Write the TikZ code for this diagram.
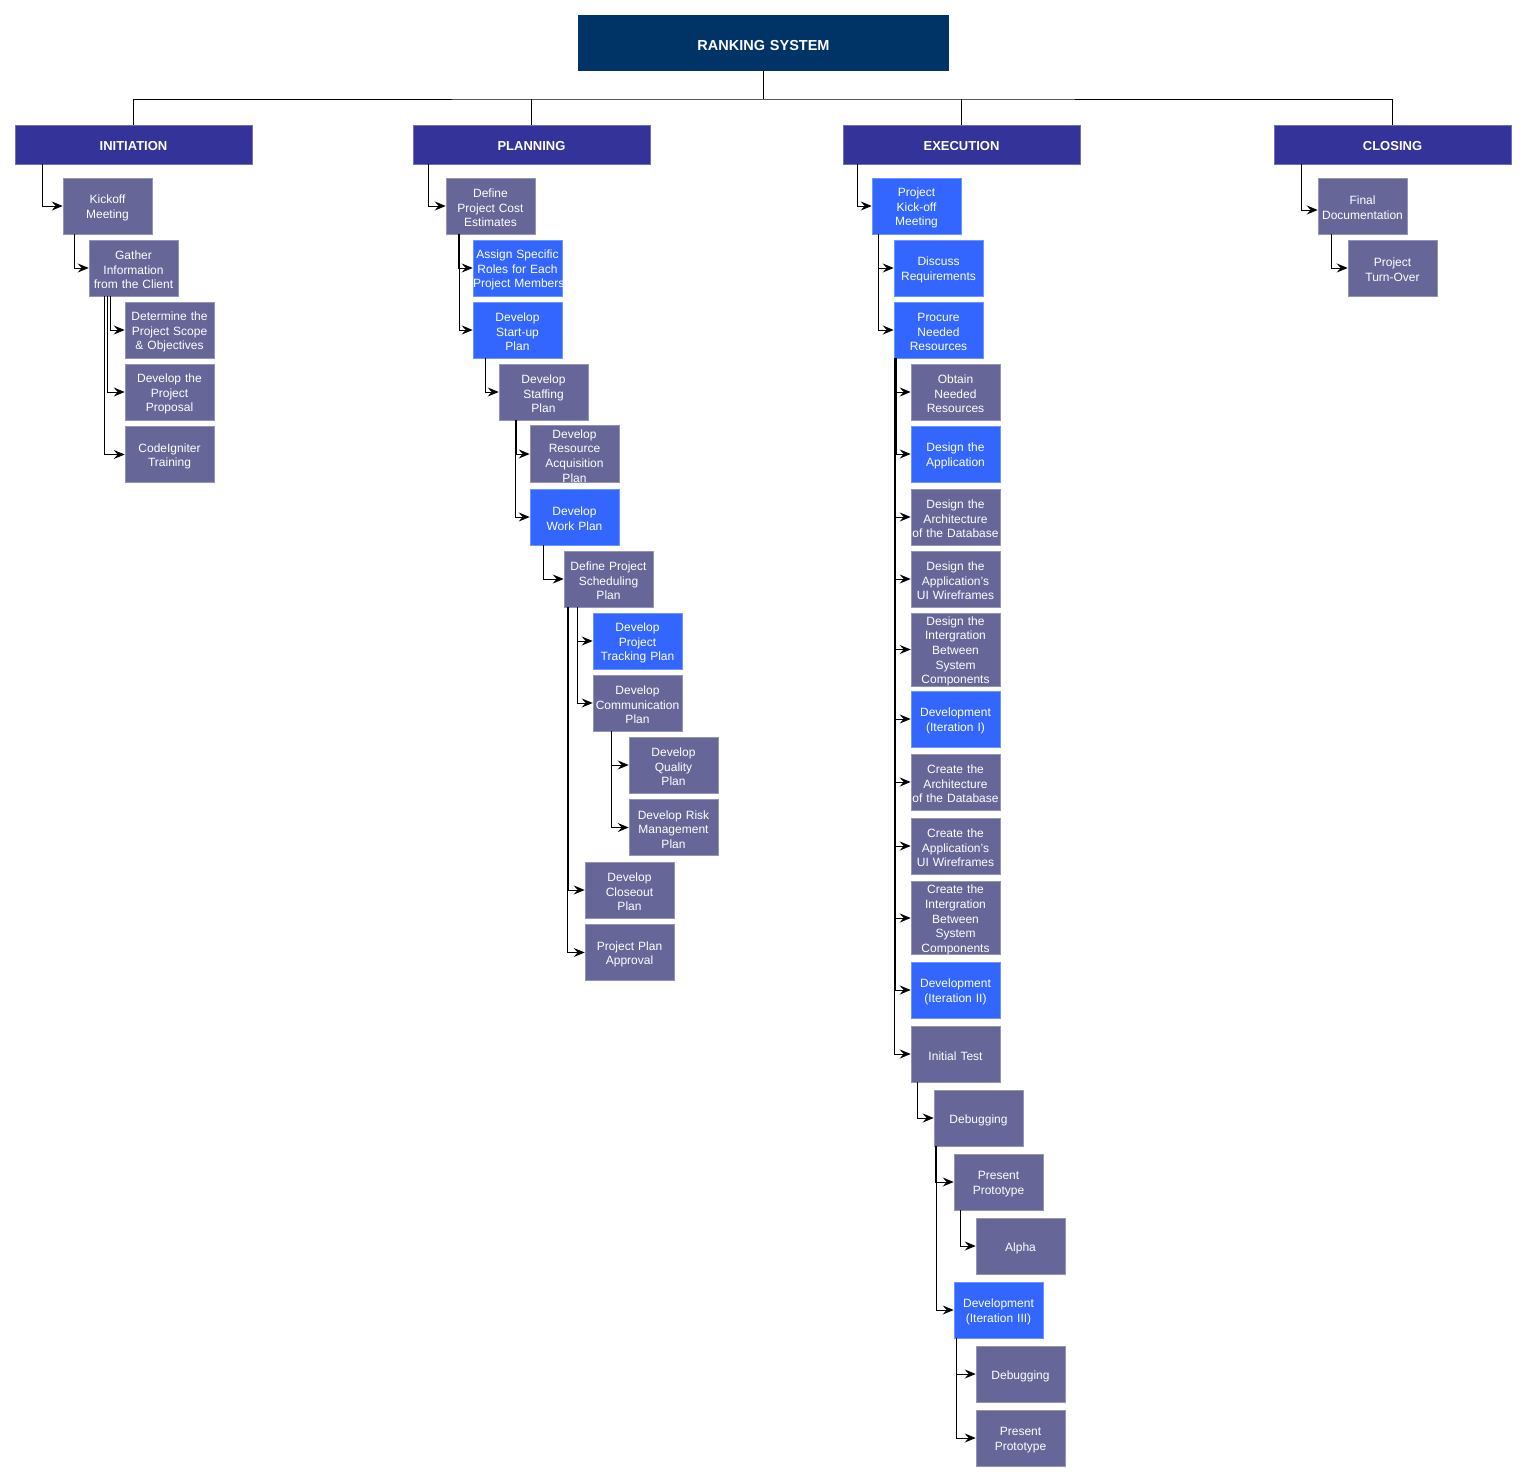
\documentclass[tikz,border=0pt]{standalone}
\usepackage{fontspec}
\setmainfont{Liberation Sans}
\usetikzlibrary{arrows.meta}

\definecolor{topnavy}{HTML}{003366}
\definecolor{phaseblue}{HTML}{333399}
\definecolor{taskgray}{HTML}{666699}
\definecolor{taskblue}{HTML}{3366FF}

\tikzset{
  % a taller first line sets the text a little lower in its box
  lower/.style={execute at begin node={\rule{0pt}{#1}}},
  box/.style={inner sep=0pt, text width=89pt, minimum height=56pt, align=center,
    text=white, font=\fontsize{12}{14.6}\selectfont, line width=0.6pt, lower=12.5pt},
  gbox/.style={box, fill=taskgray, draw=taskgray!70!white},
  bbox/.style={box, fill=taskblue, draw=taskblue!70!white},
  tall/.style={minimum height=73pt},
  phase/.style={inner sep=0pt, text width=237pt, minimum height=39pt, align=center,
    fill=phaseblue, draw=phaseblue!70!white, line width=0.6pt, text=white,
    font=\bfseries\fontsize{13}{15}\selectfont, lower=13pt},
  root/.style={inner sep=0pt, text width=371pt, minimum height=56pt, align=center,
    fill=topnavy, text=white, font=\bfseries\fontsize{14.5}{17}\selectfont, lower=14.5pt},
  tree/.style={draw=black, line width=0.9pt},
  conn/.style={draw=black, line width=0.9pt,
    -{Stealth[length=11pt,width=9pt,inset=4pt]}}
}

% parent -> child elbow connector: [yshift] {parent} {child} {x offset from parent's left edge}
\newcommand{\wbsto}[4][0]{\draw[conn] ([xshift=#4pt]#2.south west) |- ([yshift=#1pt]#3.west);}

\begin{document}
\begin{tikzpicture}[x=1pt,y=-1pt]
\useasboundingbox (0,0) rectangle (1527,1482);

% root and phases
\node[root] (root) at (763.5,43) {RANKING SYSTEM};
\node[phase] (init)  at (133.5,144.5)  {INITIATION};
\node[phase] (plan)  at (531.5,144.5)  {PLANNING};
\node[phase] (exec)  at (961.5,144.5)  {EXECUTION};
\node[phase] (close) at (1392.5,144.5) {CLOSING};

\coordinate (bus) at (763.5,99);
\draw[tree] (root.south) -- (bus);
\draw[tree] (init.north) |- (bus) -| (close.north);
\draw[tree] (plan.north) -- (plan.north |- bus);
\draw[tree] (exec.north) -- (exec.north |- bus);

% ---- Initiation ----
\node[gbox] (kick)     at (107.5,206) {Kickoff\\Meeting};
\node[gbox] (gather)   at (133.5,268) {Gather\\Information\\from the Client};
\node[gbox] (scope)    at (169.5,330) {Determine the\\Project Scope\\\& Objectives};
\node[gbox] (proposal) at (169.5,392) {Develop the\\Project\\Proposal};
\node[gbox] (ci)       at (169.5,454.5) {CodeIgniter\\Training};

\wbsto{init}{kick}{28}
\wbsto{kick}{gather}{12}
\wbsto{gather}{scope}{22}
\wbsto{gather}{proposal}{19}
\wbsto{gather}{ci}{16}

% ---- Planning ----
\node[gbox] (cost)     at (490.5,206) {Define\\Project Cost\\Estimates};
\node[bbox] (roles)    at (517.5,268) {Assign Specific\\Roles for Each\\\mbox{Project Members}};
\node[bbox] (startup)  at (517.5,330) {Develop\\Start-up\\Plan};
\node[gbox] (staff)    at (543.5,392) {Develop\\Staffing\\Plan};
\node[gbox] (resacq)   at (574.5,454) {Develop\\Resource\\Acquisition\\Plan};
\node[bbox] (work)     at (574.5,517) {Develop\\Work Plan};
\node[gbox] (sched)    at (608.5,579) {Define Project\\Scheduling\\Plan};
\node[bbox] (track)    at (637.5,641) {Develop\\Project\\Tracking Plan};
\node[gbox] (comm)     at (637.5,703) {Develop\\Communication\\Plan};
\node[gbox] (quality)  at (673.5,765) {Develop\\Quality\\Plan};
\node[gbox] (risk)     at (673.5,827.5) {Develop Risk\\Management\\Plan};
\node[gbox] (closeout) at (629.5,890) {Develop\\Closeout\\Plan};
\node[gbox] (approval) at (629.5,952.5) {Project Plan\\Approval};

\wbsto{plan}{cost}{16}
\wbsto{cost}{roles}{13}
\wbsto{cost}{startup}{14}
\wbsto{startup}{staff}{13}
\wbsto{staff}{resacq}{18}
\wbsto{staff}{work}{17}
\wbsto{work}{sched}{14}
\wbsto{sched}{track}{14}
\wbsto{sched}{comm}{14}
\wbsto{comm}{quality}{19}
\wbsto{comm}{risk}{19}
\wbsto{sched}{closeout}{5}
\wbsto{sched}{approval}{4}

% ---- Execution ----
\node[bbox] (pkick)   at (916.5,206) {Project\\Kick-off\\Meeting};
\node[bbox] (discuss) at (938.5,268) {Discuss\\Requirements};
\node[bbox] (procure) at (938.5,330) {Procure\\Needed\\Resources};
\node[gbox] (obtain)  at (955.5,392) {Obtain\\Needed\\Resources};
\node[bbox] (dapp)    at (955.5,454) {Design the\\Application};
\node[gbox] (darch)   at (955.5,517) {Design the\\Architecture\\\mbox{of the Database}};
\node[gbox] (dui)     at (955.5,579) {Design the\\Application's\\UI Wireframes};
\node[gbox,tall] (dint) at (955.5,649.5) {Design the\\Intergration\\Between\\System\\Components};
\node[bbox] (devone)  at (955.5,719) {Development\\(Iteration I)};
\node[gbox] (carch)   at (955.5,782) {Create the\\Architecture\\\mbox{of the Database}};
\node[gbox] (cui)     at (955.5,846) {Create the\\Application's\\UI Wireframes};
\node[gbox,tall] (cint) at (955.5,918) {Create the\\Intergration\\Between\\System\\Components};
\node[bbox] (devtwo)  at (955.5,990) {Development\\(Iteration II)};
\node[gbox] (itest)   at (955.5,1054) {Initial Test};
\node[gbox] (debugA)  at (978.5,1118) {Debugging};
\node[gbox] (protoA)  at (998.5,1182) {Present\\Prototype};
\node[gbox] (alpha)   at (1020.5,1246) {Alpha};
\node[bbox] (devthree) at (998.5,1310) {Development\\(Iteration III)};
\node[gbox] (debugB)  at (1020.5,1374) {Debugging};
\node[gbox] (protoB)  at (1020.5,1438) {Present\\Prototype};

\wbsto{exec}{pkick}{15}
\wbsto{pkick}{discuss}{7}
\wbsto{pkick}{procure}{7}
\wbsto{procure}{obtain}{2.5}
\wbsto{procure}{dapp}{2.5}
\wbsto{procure}{darch}{2}
\wbsto{procure}{dui}{2}
\wbsto{procure}{dint}{2}
\wbsto{procure}{devone}{2}
\wbsto{procure}{carch}{1.5}
\wbsto{procure}{cui}{1.5}
\wbsto{procure}{cint}{1.5}
\wbsto{procure}{devtwo}{1.5}
\wbsto{procure}{itest}{1}
\wbsto{itest}{debugA}{7}
\wbsto{debugA}{protoA}{2}
\wbsto{debugA}{devthree}{2.5}
\wbsto{protoA}{alpha}{7}
\wbsto{devthree}{debugB}{3}
\wbsto{devthree}{protoB}{3}

% ---- Closing ----
\node[gbox] (final)    at (1362.5,206) {Final\\Documentation};
\node[gbox] (turnover) at (1392.5,268) {Project\\Turn-Over};

\wbsto[-4]{close}{final}{28}
\wbsto{final}{turnover}{14}

\end{tikzpicture}
\end{document}
